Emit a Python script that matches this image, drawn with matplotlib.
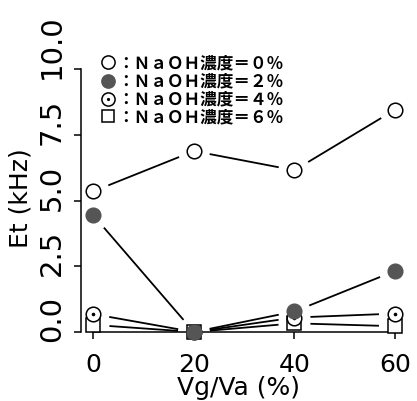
import numpy as np
import matplotlib
matplotlib.use('Agg')
import matplotlib.pyplot as plt
import matplotlib.transforms as mtransforms

# ---- data ----
x_vals = [0, 20, 40, 60]
et_naoh0 = [5.35, 6.88, 6.15, 8.45]
et_naoh2 = [4.43, 0.0, 0.78, 2.32]
et_naoh4 = [0.68, 0.0, 0.55, 0.70]
et_naoh6 = [0.27, 0.0, 0.33, 0.22]
x_ticks = [0, 20, 40, 60]
x_tick_labels = ['0', '20', '40', '60']
y_ticks = [0.0, 2.5, 5.0, 7.5, 10.0]
y_tick_labels = ['0.0', '2.5', '5.0', '7.5', '10.0']
legend_labels = ['：ＮａＯＨ濃度＝０％', '：ＮａＯＨ濃度＝２％',
                 '：ＮａＯＨ濃度＝４％', '：ＮａＯＨ濃度＝６％']
x_label = 'Vg/Va (%)'
y_label = 'Et (kHz)'

W, H = 417, 402
fig = plt.figure(figsize=(W / 100, H / 100), dpi=100)
fig.patch.set_facecolor('white')

ax = fig.add_axes([81.4 / W, (H - 333) / H, 325.6 / W, 273.5 / H])
ax.set_xlim(-2.4, 62.4)
ax.set_ylim(0, 10.4)
ax.patch.set_visible(False)
for s in ['top', 'right']:
    ax.spines[s].set_visible(False)
ax.spines['left'].set_bounds(0, 10)
ax.spines['bottom'].set_bounds(0, 60)
for s in ['left', 'bottom']:
    ax.spines[s].set_linewidth(1.1)

ax.set_xticks(x_ticks)
ax.set_xticklabels(x_tick_labels, fontsize=18, family='DejaVu Sans')
ax.set_yticks(y_ticks)
ax.tick_params(axis='both', direction='out', length=5, width=1.1)
ax.tick_params(axis='x', pad=9.5)
ax.tick_params(axis='y', labelleft=False)

# y tick labels (rotated), start slightly below tick
ytrans = mtransforms.blended_transform_factory(fig.transFigure, ax.transData) + \
    mtransforms.ScaledTranslation(0, -0.09, fig.dpi_scale_trans)
for v, lab in zip(y_ticks, y_tick_labels):
    ax.text(52 / W, v, lab, transform=ytrans, rotation=90, ha='center', va='bottom',
            fontsize=21, family='DejaVu Sans', clip_on=False)

fig.text(21 / W, 1 - 198 / H, y_label, rotation=90, ha='center', va='center',
         fontsize=18, family='DejaVu Sans')
fig.text(238.5 / W, 1 - 395 / H, x_label, ha='center', va='baseline',
         fontsize=18, family='DejaVu Sans')

# ---- lines with gaps (type "b") ----
GAP = 16.0


def gapped(xs, ys):
    pts = ax.transData.transform(np.column_stack([xs, ys]))
    inv = ax.transData.inverted()
    for p0, p1 in zip(pts[:-1], pts[1:]):
        d = p1 - p0
        L = np.hypot(*d)
        if L > 2 * GAP:
            u = d / L
            a = inv.transform(p0 + u * GAP)
            b = inv.transform(p1 - u * GAP)
            ax.plot([a[0], b[0]], [a[1], b[1]], color='black', lw=1.3,
                    clip_on=False, zorder=2, solid_capstyle='butt')


for ys in [et_naoh0, et_naoh2, et_naoh4, et_naoh6]:
    gapped(x_vals, ys)

GRAY = '#555555'
MS = 10.5
MEW = 1.1
ax.plot(x_vals, et_naoh0, 'o', ms=MS, mfc='white', mec='black', mew=MEW,
        ls='none', clip_on=False, zorder=3)
ax.plot(x_vals, et_naoh6, 's', ms=MS, mfc='white', mec='black', mew=MEW,
        ls='none', clip_on=False, zorder=4)
ax.plot(x_vals, et_naoh4, 'o', ms=MS, mfc='white', mec='black', mew=MEW,
        ls='none', clip_on=False, zorder=5)
ax.plot(x_vals, et_naoh4, 'o', ms=2.6, mfc='black', mec='black', mew=0,
        ls='none', clip_on=False, zorder=5.1)
ax.plot(x_vals, et_naoh2, 'o', ms=MS, mfc=GRAY, mec=GRAY, mew=MEW,
        ls='none', clip_on=False, zorder=6)

# ---- legend (manual) ----
rows_y = [63, 81.5, 99.5, 117]
LMS = 9.5
styles = [dict(marker='o', mfc='white', mec='black'),
          dict(marker='o', mfc=GRAY, mec=GRAY),
          dict(marker='o', mfc='white', mec='black'),
          dict(marker='s', mfc='white', mec='black')]
for i, (yy, lab, st) in enumerate(zip(rows_y, legend_labels, styles)):
    fx, fy = 108 / W, 1 - yy / H
    ms = LMS if st['marker'] == 'o' else 9.0
    ax.plot([fx], [fy], transform=fig.transFigure, ls='none', ms=ms, mew=1.1,
            clip_on=False, **st)
    if i == 2:
        ax.plot([fx], [fy], transform=fig.transFigure, ls='none', marker='o',
                ms=2.3, mfc='black', mec='black', mew=0, clip_on=False)
    fig.text(117 / W, fy, lab, ha='left', va='center', fontsize=12,
             family=['Noto Sans CJK JP', 'DejaVu Sans'], weight='bold')

fig.savefig('out.png', dpi=100, facecolor='white')
